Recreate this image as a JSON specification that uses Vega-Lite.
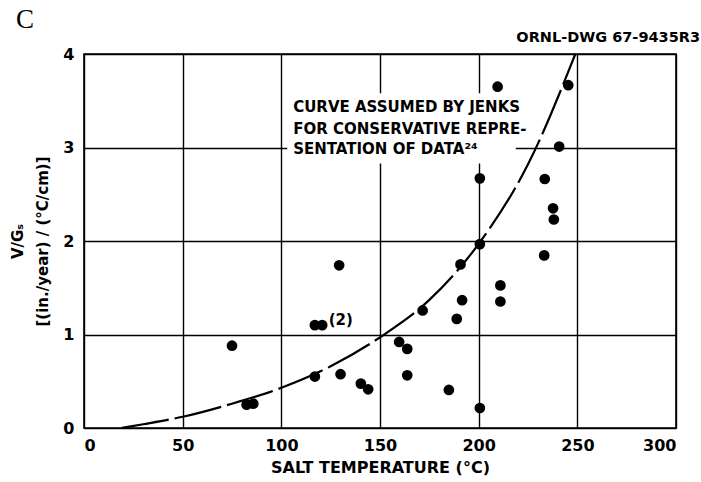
{
  "$schema": "https://vega.github.io/schema/vega-lite/v6.json",
  "width": 592,
  "height": 374,
  "autosize": {"type": "none"},
  "padding": {"left": 84, "top": 54, "right": 25, "bottom": 54},
  "background": "white",
  "config": {
    "view": {"stroke": "black", "strokeWidth": 1.6},
    "axis": {
      "domain": false,
      "ticks": false,
      "grid": true,
      "gridColor": "black",
      "gridWidth": 1.4,
      "gridOpacity": 1,
      "labelFont": "DejaVu Sans",
      "labelFontSize": 16,
      "labelFontWeight": "bold",
      "labelColor": "black",
      "titleFont": "DejaVu Sans",
      "titleFontSize": 16,
      "titleFontWeight": "bold",
      "titleColor": "black"
    }
  },
  "datasets": {
    "points": [
      {"temp": 75, "vg": 0.88},
      {"temp": 82.4, "vg": 0.25},
      {"temp": 85.8, "vg": 0.26},
      {"temp": 117, "vg": 0.55},
      {"temp": 117, "vg": 1.1},
      {"temp": 120.7, "vg": 1.1},
      {"temp": 129.3, "vg": 1.74},
      {"temp": 130, "vg": 0.575},
      {"temp": 140.3, "vg": 0.475},
      {"temp": 144, "vg": 0.414},
      {"temp": 159.7, "vg": 0.92},
      {"temp": 163.8, "vg": 0.846},
      {"temp": 163.8, "vg": 0.564},
      {"temp": 171.6, "vg": 1.257},
      {"temp": 184.9, "vg": 0.407},
      {"temp": 188.9, "vg": 1.167},
      {"temp": 191.6, "vg": 1.367},
      {"temp": 190.8, "vg": 1.75},
      {"temp": 200.6, "vg": 0.214},
      {"temp": 200.6, "vg": 1.967},
      {"temp": 200.6, "vg": 2.67},
      {"temp": 209.6, "vg": 3.65},
      {"temp": 211, "vg": 1.525},
      {"temp": 211, "vg": 1.353},
      {"temp": 233.2, "vg": 1.846},
      {"temp": 233.5, "vg": 2.663},
      {"temp": 237.7, "vg": 2.35},
      {"temp": 238.1, "vg": 2.23},
      {"temp": 240.8, "vg": 3.01},
      {"temp": 245.4, "vg": 3.666}
    ],
    "curve": [
      {"temp": 19, "vg": 0},
      {"temp": 30, "vg": 0.04},
      {"temp": 50, "vg": 0.12},
      {"temp": 75, "vg": 0.26},
      {"temp": 100, "vg": 0.43},
      {"temp": 125, "vg": 0.66},
      {"temp": 150, "vg": 0.97},
      {"temp": 175, "vg": 1.37},
      {"temp": 200, "vg": 1.97},
      {"temp": 225, "vg": 2.82},
      {"temp": 249, "vg": 4.0}
    ],
    "mask": [
      {"x1": 103, "x2": 218.8, "y1": 2.83, "y2": 3.58}
    ],
    "notes": [
      {"temp": 106, "vg": 3.43, "label": "CURVE ASSUMED BY JENKS"},
      {"temp": 106, "vg": 3.2, "label": "FOR CONSERVATIVE REPRE-"},
      {"temp": 106, "vg": 2.98, "label": "SENTATION OF DATA²⁴"},
      {"temp": 124, "vg": 1.15, "label": "(2)"}
    ],
    "dwg": [
      {"temp": 300, "vg": 4, "label": "ORNL-DWG 67-9435R3"}
    ],
    "panel": [
      {"temp": 0, "vg": 4, "label": "C"}
    ]
  },
  "encoding": {
    "x": {
      "field": "temp",
      "type": "quantitative",
      "scale": {"domain": [0, 300], "nice": false, "zero": false},
      "axis": {
        "values": [0, 50, 100, 150, 200, 250, 300],
        "labelPadding": 9,
        "title": "SALT TEMPERATURE (°C)",
        "titlePadding": 6
      }
    },
    "y": {
      "field": "vg",
      "type": "quantitative",
      "scale": {"domain": [0, 4], "nice": false, "zero": false},
      "axis": {
        "values": [0, 1, 2, 3, 4],
        "labelPadding": 10,
        "title": ["V/Gₛ", "[(in./year) / (°C/cm)]"],
        "titleFontSize": 15,
        "titlePadding": 12,
        "titleLineHeight": 25
      }
    }
  },
  "layer": [
    {
      "data": {"name": "mask"},
      "mark": {"type": "rect", "fill": "white"},
      "encoding": {
        "x": {"field": "x1", "type": "quantitative"},
        "x2": {"field": "x2"},
        "y": {"field": "y1", "type": "quantitative"},
        "y2": {"field": "y2"}
      }
    },
    {
      "data": {"name": "curve"},
      "mark": {"type": "line", "color": "black", "strokeWidth": 2.2, "strokeDash": [48, 6], "interpolate": "monotone"}
    },
    {
      "data": {"name": "points"},
      "mark": {"type": "circle", "color": "black", "opacity": 1, "size": 115}
    },
    {
      "data": {"name": "notes"},
      "mark": {"type": "text", "align": "left", "baseline": "middle", "font": "DejaVu Sans", "fontSize": 15, "fontWeight": "bold", "color": "black"},
      "encoding": {"text": {"field": "label"}}
    },
    {
      "data": {"name": "dwg"},
      "mark": {"type": "text", "align": "right", "baseline": "middle", "dx": 24, "dy": -16, "font": "DejaVu Sans", "fontSize": 14.5, "fontWeight": "bold", "color": "black"},
      "encoding": {"text": {"field": "label"}}
    },
    {
      "data": {"name": "panel"},
      "mark": {"type": "text", "align": "left", "baseline": "alphabetic", "dx": -68, "dy": -26, "font": "Liberation Serif", "fontSize": 27, "color": "black"},
      "encoding": {"text": {"field": "label"}}
    }
  ]
}
